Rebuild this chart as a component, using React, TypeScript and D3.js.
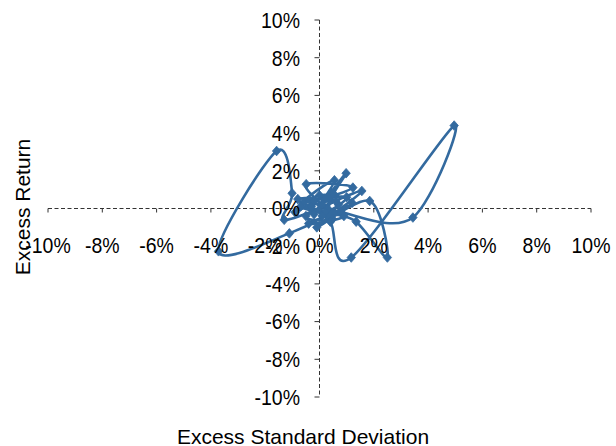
import React from "react";
import * as d3 from "d3";

// Excess standard deviation (%) and excess return (%) in sequence
const excessStd: number[] = [
  0.1, -0.49, 1.23, -0.6, 0.55, -0.2, 0.98, 0.3, 1.35, 2.5, 1.85, -0.1, 1.56, -0.5,
  0.48, -0.8, 0.7, -1.11, -3.72, -1.58, -1.01, -1.3, 0.6, -0.3, 0.4, 1.17, 4.96,
  3.44, 0.8, -0.2, 1.0, 0.2, -0.7, 0.9, -0.4, 1.2, 0.0, -0.9, 0.5, 0.1,
];
const excessRet: number[] = [
  0.2, 1.29, 1.11, 0.3, 1.5, -0.3, 1.87, 0.0, -0.7, -2.6, 0.4, -1.0, 0.93, -0.4,
  -0.56, 0.5, 0.2, -1.32, -2.27, 3.05, 0.81, -0.6, 0.4, 0.1, -0.7, -2.6, 4.4,
  -0.48, -0.2, 0.4, 0.6, -0.2, 0.1, -0.4, -0.8, 0.3, 0.7, -0.2, 0.8, -0.4,
];
const tickValues: number[] = [-10, -8, -6, -4, -2, 0, 2, 4, 6, 8, 10];
const xTitle = "Excess Standard Deviation";
const yTitle = "Excess Return";

const W = 616;
const H = 446;
const COLOR = "#336a9f";
const FONT = "'Liberation Sans', Arial, sans-serif";
const FS = 19.5;
const FT = 21;
const SY = 1.1;

export default function App() {
  const x = d3.scaleLinear().domain([-10, 10]).range([48, 591]);
  const y = d3.scaleLinear().domain([-10, 10]).range([397, 20]);
  const pts: [number, number][] = excessStd.map((v, i) => [x(v), y(excessRet[i])]);
  const line = d3.line().curve(d3.curveCardinal.tension(0))(pts) || "";
  const x0 = x(0);
  const y0 = y(0);
  const diamond = (cx: number, cy: number) =>
    `M${cx},${cy - 4.8}L${cx + 4.2},${cy}L${cx},${cy + 4.8}L${cx - 4.2},${cy}Z`;

  return (
    <svg width={W} height={H} style={{ position: "absolute", left: 0, top: 0, background: "#fff" }}>
      {/* axes */}
      <line x1={x(-10)} x2={x(10)} y1={y0} y2={y0} stroke="#333" strokeWidth={1} strokeDasharray="4,2.5" />
      <line x1={x0} x2={x0} y1={y(10)} y2={y(-10)} stroke="#333" strokeWidth={1} strokeDasharray="4,2.5" />
      {tickValues.map((t) => (
        <line key={"xt" + t} x1={x(t)} x2={x(t)} y1={y0} y2={y0 + 4} stroke="#333" strokeWidth={1} />
      ))}
      {tickValues.map((t) => (
        <line key={"yt" + t} x1={x0 - 5} x2={x0} y1={y(t)} y2={y(t)} stroke="#333" strokeWidth={1} />
      ))}
      {/* series */}
      <path d={line} fill="none" stroke={COLOR} strokeWidth={2.6} strokeLinejoin="round" />
      {pts.map((p, i) => (
        <path key={"m" + i} d={diamond(p[0], p[1])} fill={COLOR} stroke={COLOR} strokeWidth={0.8} />
      ))}
      {/* y tick labels */}
      {tickValues.map((t) => (
        <text
          key={"yl" + t}
          transform={`translate(300,${y(t)}) scale(1,${SY})`}
          textAnchor="end"
          dominantBaseline="central"
          fontFamily={FONT}
          fontSize={FS}
          fill="#000"
        >
          {`${t}%`}
        </text>
      ))}
      {/* x tick labels */}
      {tickValues.map((t) => (
        <text
          key={"xl" + t}
          transform={`translate(${x(t)},245) scale(1,${SY})`}
          textAnchor="middle"
          dominantBaseline="central"
          fontFamily={FONT}
          fontSize={FS}
          fill="#000"
        >
          {`${t}%`}
        </text>
      ))}
      {/* titles */}
      <text
        x={303}
        y={436}
        textAnchor="middle"
        dominantBaseline="central"
        fontFamily={FONT}
        fontSize={FT}
        fill="#000"
      >
        {xTitle}
      </text>
      <text
        transform={`translate(22,207) rotate(-90)`}
        textAnchor="middle"
        dominantBaseline="central"
        fontFamily={FONT}
        fontSize={FT}
        fill="#000"
      >
        {yTitle}
      </text>
    </svg>
  );
}
